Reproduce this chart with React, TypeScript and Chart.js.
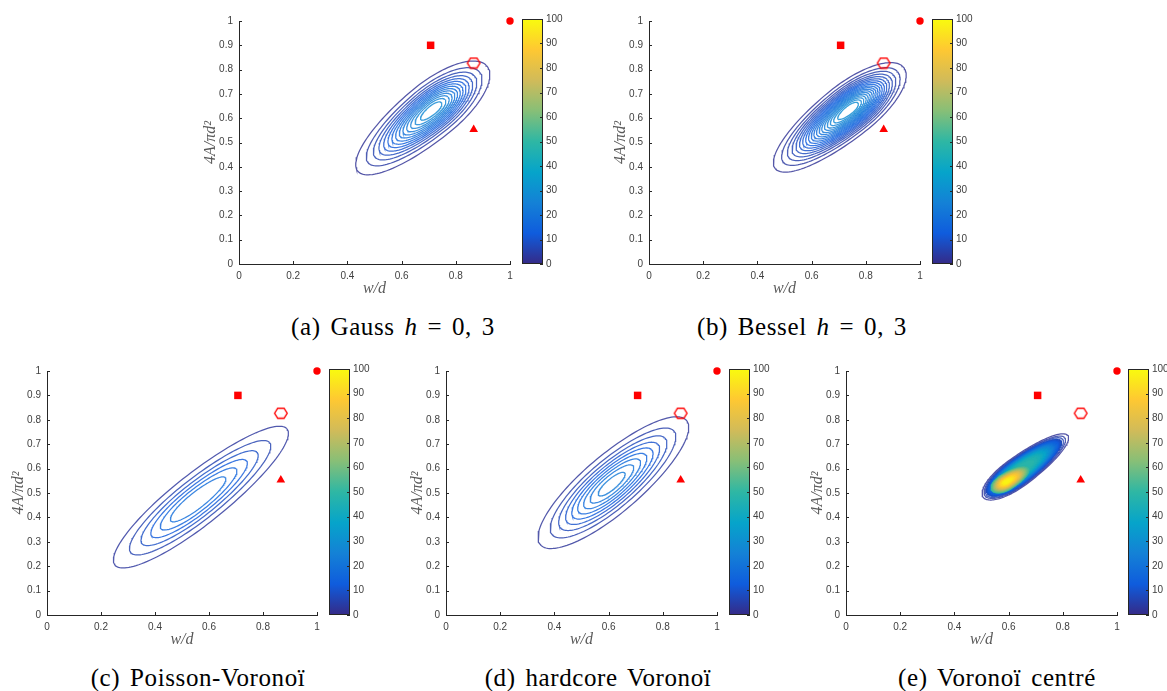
import React, { useEffect, useRef } from "react";
import { Chart, registerables } from "chart.js";
Chart.register(...registerables);

// ---------------- data ----------------
const X_TICKS = [0, 0.2, 0.4, 0.6, 0.8, 1];
const Y_TICKS = [0, 0.1, 0.2, 0.3, 0.4, 0.5, 0.6, 0.7, 0.8, 0.9, 1];
const CB_TICKS = [0, 10, 20, 30, 40, 50, 60, 70, 80, 90, 100];
const X_TITLE = "w/d";
const Y_TITLE = "4A/πd²";

// reference shapes: disc, square, hexagon, triangle
const MARKER_X = [1, 0.7071, 0.866, 0.866];
const MARKER_Y = [1, 0.9, 0.827, 0.553];

// density models:
// [peakX, peakY, peakValue, angleDeg, reachUpper, reachLower, outerHalfWidth, profileExponent]
const GAUSS_LEVELS = [2, 4, 6, 8, 10, 12, 14, 16, 18, 20, 22, 24, 26, 28];
const GAUSS_MODEL = [0.715, 0.635, 30, 43, 0.269, 0.375, 0.11, 2];

const BESSEL_LEVELS = [2, 3.5, 5, 6.5, 8, 9.5, 11, 12.5, 14, 15.5, 17, 18.5, 20, 21.5, 23, 24.5, 26, 27.5, 29];
const BESSEL_MODEL = [0.74, 0.635, 31, 42, 0.265, 0.366, 0.105, 2];

const POISSON_LEVELS = [3, 6, 9, 12, 15, 18];
const POISSON_MODEL = [0.555, 0.47, 22, 41.5, 0.444, 0.403, 0.1, 2];

const HARDCORE_LEVELS = [2.5, 5, 7.5, 10, 12.5, 15, 17.5, 20, 22.5];
const HARDCORE_MODEL = [0.61, 0.535, 24.2, 44, 0.382, 0.36, 0.112, 2];

const CENTRE_BROAD_LEVELS = [2, 4, 6, 8, 10, 12, 14, 16, 18, 20, 22, 24, 26, 28, 30, 32, 34, 36, 38, 40, 42, 44, 46, 48];
const CENTRE_BROAD_MODEL = [0.628, 0.58, 50, 39.5, 0.246, 0.156, 0.058, 4];
const CENTRE_PEAK_LEVELS = [50, 52, 54, 56, 58, 60, 62, 64, 66, 68, 70, 72, 74, 76, 78, 80, 82, 84, 86, 88, 90, 92, 94, 96, 98];
const CENTRE_PEAK_MODEL = [0.592, 0.546, 100, 35, 0.1, 0.065, 0.034, 2];

const CAPTIONS = [
  ["(a) Gauss ", "h", " = 0, 3"],
  ["(b) Bessel ", "h", " = 0, 3"],
  ["(c) Poisson-Voronoï", "", ""],
  ["(d) hardcore Voronoï", "", ""],
  ["(e) Voronoï centré", "", ""],
];

// parula colormap stops
const PARULA = ["#352a87", "#0f5cdd", "#1481d6", "#06a4ca", "#2eb7a4", "#87bf77", "#d1bb59", "#fec832", "#f9fb0e"];

// ---------------- layout (page pixels) ----------------
// [plotLeft, plotTop, plotWidth, plotHeight, colorbarLeft, captionCenterX, captionCenterY]
const BOXES = [
  [239, 19, 271, 245, 522, 393, 327],
  [649, 19, 271, 245, 932, 802, 327],
  [47, 369, 270, 246, 329, 198, 678],
  [446, 369, 271, 246, 729, 598, 678],
  [846, 369, 271, 246, 1128, 997, 678],
];

const PANEL_COMPONENTS = [
  [{ model: GAUSS_MODEL, levels: GAUSS_LEVELS, fillFrom: Infinity }],
  [{ model: BESSEL_MODEL, levels: BESSEL_LEVELS, fillFrom: Infinity }],
  [{ model: POISSON_MODEL, levels: POISSON_LEVELS, fillFrom: Infinity }],
  [{ model: HARDCORE_MODEL, levels: HARDCORE_LEVELS, fillFrom: Infinity }],
  [
    { model: CENTRE_BROAD_MODEL, levels: CENTRE_BROAD_LEVELS, fillFrom: 8 },
    { model: CENTRE_PEAK_MODEL, levels: CENTRE_PEAK_LEVELS, fillFrom: 0 },
  ],
];

// ---------------- helpers ----------------
function hexToRgb(h: string) {
  return [parseInt(h.slice(1, 3), 16), parseInt(h.slice(3, 5), 16), parseInt(h.slice(5, 7), 16)];
}
function parula(t: number, alpha = 1) {
  const tt = Math.max(0, Math.min(1, t)) * (PARULA.length - 1);
  const i = Math.min(PARULA.length - 2, Math.floor(tt));
  const f = tt - i;
  const a = hexToRgb(PARULA[i]);
  const b = hexToRgb(PARULA[i + 1]);
  const c = a.map((v, k) => Math.round(v + (b[k] - v) * f));
  return `rgba(${c[0]},${c[1]},${c[2]},${alpha})`;
}

function contourRing(model: number[], level: number, outerLevel: number, n = 140) {
  const [px, py, pv, ang, reachU, reachL, halfW, ex] = model;
  const prof = (L: number) => Math.pow(2 * Math.log(pv / L), 1 / ex);
  const s = prof(level) / prof(outerLevel);
  const th = (ang * Math.PI) / 180;
  const pts: { x: number; y: number }[] = [];
  for (let i = 0; i <= n; i++) {
    const t = (2 * Math.PI * i) / n;
    const c = Math.cos(t);
    const sn = Math.sin(t);
    const u = c * (c >= 0 ? reachU : reachL) * s;
    const v = sn * halfW * s;
    pts.push({ x: px + u * Math.cos(th) - v * Math.sin(th), y: py + u * Math.sin(th) + v * Math.cos(th) });
  }
  return pts;
}

function makeHexagon() {
  const c = document.createElement("canvas");
  c.width = 16;
  c.height = 13;
  const ctx = c.getContext("2d")!;
  ctx.strokeStyle = "#ff0000";
  ctx.lineWidth = 1.4;
  const cx = 8, cy = 6.5, rx = 6.3, ry = 5;
  ctx.beginPath();
  ctx.moveTo(cx - rx, cy);
  ctx.lineTo(cx - rx / 2, cy - ry);
  ctx.lineTo(cx + rx / 2, cy - ry);
  ctx.lineTo(cx + rx, cy);
  ctx.lineTo(cx + rx / 2, cy + ry);
  ctx.lineTo(cx - rx / 2, cy + ry);
  ctx.closePath();
  ctx.stroke();
  return c;
}

const AXIS_COLOR = "#262626";
const LABEL_COLOR = "#404040";
const TITLE_COLOR = "#595959";
const TICK_FONT = { family: "'Liberation Sans', Arial, sans-serif", size: 10 };
const TITLE_FONT = { family: "'Liberation Serif', serif", size: 16, style: "italic" as const, lineHeight: 1.2 };

const PAD_LEFT = 10, Y_W = 40, PAD_TOP = 10, PAD_RIGHT = 14, X_H = 37;

const inwardTicks = {
  id: "inwardTicks",
  afterDraw(chart: any) {
    const { ctx, chartArea, scales } = chart;
    ctx.save();
    ctx.strokeStyle = AXIS_COLOR;
    ctx.lineWidth = 1;
    ctx.beginPath();
    X_TICKS.forEach((v) => {
      const x = Math.round(scales.x.getPixelForValue(v)) + 0.5;
      ctx.moveTo(x, chartArea.bottom);
      ctx.lineTo(x, chartArea.bottom - 3);
    });
    Y_TICKS.forEach((v) => {
      const y = Math.round(scales.y.getPixelForValue(v)) + 0.5;
      ctx.moveTo(chartArea.left, y);
      ctx.lineTo(chartArea.left + 3, y);
    });
    ctx.stroke();
    ctx.restore();
  },
};

const colorbarPlugin = {
  id: "colorbarFill",
  beforeDraw(chart: any) {
    const { ctx, chartArea: a } = chart;
    const g = ctx.createLinearGradient(0, a.bottom, 0, a.top);
    PARULA.forEach((c, i) => g.addColorStop(i / (PARULA.length - 1), c));
    ctx.save();
    ctx.fillStyle = g;
    ctx.fillRect(a.left, a.top, a.right - a.left, a.bottom - a.top);
    ctx.restore();
  },
  afterDraw(chart: any) {
    const { ctx, chartArea: a, scales } = chart;
    ctx.save();
    ctx.strokeStyle = AXIS_COLOR;
    ctx.lineWidth = 1;
    ctx.strokeRect(a.left + 0.5, a.top + 0.5, a.right - a.left - 1, a.bottom - a.top - 1);
    ctx.beginPath();
    CB_TICKS.forEach((v) => {
      const y = Math.round(scales.y.getPixelForValue(v)) + 0.5;
      ctx.moveTo(a.right, y);
      ctx.lineTo(a.right - 3, y);
    });
    ctx.stroke();
    ctx.restore();
  },
};

function fmt(v: number) {
  return String(Number(v.toFixed(2)));
}

function Panel({ idx }: { idx: number }) {
  const mainRef = useRef<HTMLCanvasElement>(null);
  const cbRef = useRef<HTMLCanvasElement>(null);
  const [pl, pt, pw, ph, cbx] = BOXES[idx];

  useEffect(() => {
    const datasets: any[] = [];
    PANEL_COMPONENTS[idx].forEach((comp) => {
      comp.levels.forEach((L) => {
        const filled = L >= comp.fillFrom;
        datasets.push({
          data: contourRing(comp.model, L, comp.levels[0]),
          showLine: true,
          borderColor: parula(L / 100, filled ? 1 : 0.82),
          backgroundColor: parula(L / 100),
          borderWidth: filled ? 1 : 1.25,
          pointRadius: 0,
          pointHoverRadius: 0,
          tension: 0,
          fill: filled ? "shape" : false,
          order: -L,
        });
      });
    });
    const hex = makeHexagon();
    const styles: any[] = ["circle", "rect", hex, "triangle"];
    const radii = [3.7, 5.3, 7, 5];
    MARKER_X.forEach((x, i) => {
      datasets.push({
        data: [{ x, y: MARKER_Y[i] }],
        showLine: false,
        pointStyle: styles[i],
        pointRadius: radii[i],
        pointBackgroundColor: "#ff0000",
        pointBorderColor: "#ff0000",
        pointBorderWidth: 0,
        clip: false,
        order: -1000,
      });
    });

    const chart = new Chart(mainRef.current!, {
      type: "scatter",
      data: { datasets },
      options: {
        animation: false,
        responsive: false,
        devicePixelRatio: 1,
        events: [],
        layout: { padding: { left: PAD_LEFT, top: PAD_TOP, right: PAD_RIGHT, bottom: 0 } },
        plugins: { legend: { display: false }, tooltip: { enabled: false } },
        scales: {
          x: {
            type: "linear",
            min: 0,
            max: 1,
            afterBuildTicks: (s: any) => { s.ticks = X_TICKS.map((value) => ({ value })); },
            afterFit: (s: any) => { s.height = X_H; },
            grid: { display: false, drawTicks: false },
            border: { display: true, color: AXIS_COLOR, width: 1 },
            ticks: { font: TICK_FONT, color: LABEL_COLOR, padding: 6, maxRotation: 0, callback: (v: any) => fmt(Number(v)) },
            title: { display: true, text: X_TITLE, font: TITLE_FONT, color: TITLE_COLOR, padding: { top: 0, bottom: 3 } },
          },
          y: {
            type: "linear",
            min: 0,
            max: 1,
            afterBuildTicks: (s: any) => { s.ticks = Y_TICKS.map((value) => ({ value })); },
            afterFit: (s: any) => { s.width = Y_W; },
            grid: { display: false, drawTicks: false },
            border: { display: true, color: AXIS_COLOR, width: 1 },
            ticks: { font: TICK_FONT, color: LABEL_COLOR, padding: 6, callback: (v: any) => fmt(Number(v)) },
            title: { display: true, text: Y_TITLE, font: TITLE_FONT, color: TITLE_COLOR, padding: { top: 2, bottom: 0 } },
          },
        },
      },
      plugins: [inwardTicks],
    } as any);

    const cb = new Chart(cbRef.current!, {
      type: "scatter",
      data: { datasets: [] },
      options: {
        animation: false,
        responsive: false,
        devicePixelRatio: 1,
        events: [],
        layout: { padding: { left: 0, top: 10, right: 0, bottom: 10 } },
        plugins: { legend: { display: false }, tooltip: { enabled: false } },
        scales: {
          x: { type: "linear", display: false, min: 0, max: 1 },
          y: {
            type: "linear",
            position: "right",
            min: 0,
            max: 100,
            afterBuildTicks: (s: any) => { s.ticks = CB_TICKS.map((value) => ({ value })); },
            afterFit: (s: any) => { s.width = 30; },
            grid: { display: false, drawTicks: false },
            border: { display: false },
            ticks: { font: TICK_FONT, color: LABEL_COLOR, padding: 3, callback: (v: any) => String(v) },
          },
        },
      },
      plugins: [colorbarPlugin],
    } as any);

    return () => {
      chart.destroy();
      cb.destroy();
    };
  }, [idx]);

  const cw = PAD_LEFT + Y_W + pw + PAD_RIGHT;
  const chh = PAD_TOP + ph + X_H;
  return (
    <>
      <canvas
        ref={mainRef}
        width={cw}
        height={chh}
        style={{ position: "absolute", left: pl - PAD_LEFT - Y_W, top: pt - PAD_TOP, width: cw, height: chh }}
      />
      <canvas
        ref={cbRef}
        width={21 + 30}
        height={ph + 20}
        style={{ position: "absolute", left: cbx, top: pt - 10, width: 51, height: ph + 20 }}
      />
    </>
  );
}

export default function App() {
  return (
    <div style={{ position: "absolute", left: 0, top: 0, width: 1167, height: 691, background: "#ffffff", overflow: "hidden" }}>
      {BOXES.map((b, i) => (
        <Panel key={i} idx={i} />
      ))}
      {BOXES.map((b, i) => (
        <div
          key={"c" + i}
          style={{
            position: "absolute",
            left: b[5] - 250,
            top: b[6] - 15,
            width: 500,
            height: 30,
            lineHeight: "30px",
            textAlign: "center",
            fontFamily: "'Liberation Serif', serif",
            fontSize: 25,
            letterSpacing: "0.6px",
            wordSpacing: "3px",
            color: "#000",
            whiteSpace: "nowrap",
          }}
        >
          {CAPTIONS[i][0]}
          {CAPTIONS[i][1] ? <i>{CAPTIONS[i][1]}</i> : null}
          {CAPTIONS[i][2]}
        </div>
      ))}
    </div>
  );
}
